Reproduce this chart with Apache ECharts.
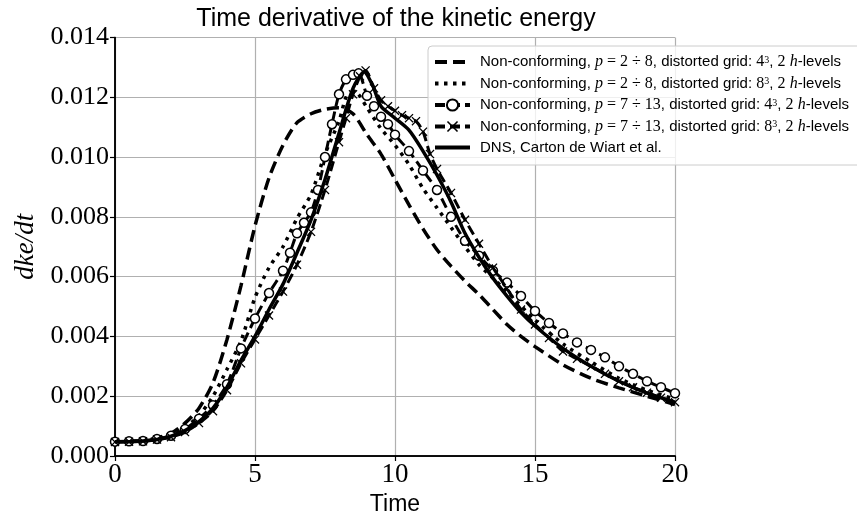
<!DOCTYPE html>
<html><head><meta charset="utf-8">
<script src="https://cdn.jsdelivr.net/npm/echarts@6/dist/echarts.min.js"></script>
<style>html,body{margin:0;padding:0;background:#fff}#c{width:857px;height:523px}</style>
</head><body><div id="c"></div>
<script>
// ---- data ----
const xTicks = [0, 5, 10, 15, 20];
const yTicks = [0, 0.002, 0.004, 0.006, 0.008, 0.010, 0.012, 0.014];

const seriesNames = [
  'Non-conforming, p = 2 ÷ 8, distorted grid: 4^3, 2 h-levels',
  'Non-conforming, p = 2 ÷ 8, distorted grid: 8^3, 2 h-levels',
  'Non-conforming, p = 7 ÷ 13, distorted grid: 4^3, 2 h-levels',
  'Non-conforming, p = 7 ÷ 13, distorted grid: 8^3, 2 h-levels',
  'DNS, Carton de Wiart et al.'
];

// p = 2÷8, 4^3 (dashed)
const t1 = [0,0.5,1,1.5,2,2.5,3,3.5,4,4.5,5,5.5,6,6.5,7,7.5,8,8.5,9,9.5,10,10.5,11,11.5,12,12.5,13,13.5,14,14.5,15,16,17,18,19,20];
const v1 = [0.00048,0.00049,0.00052,0.0006,0.00076,0.0011,0.0016,0.00245,0.0039,0.0057,0.0077,0.0093,0.0104,0.01115,0.01145,0.0116,0.01165,0.01145,0.01075,0.0101,0.00925,0.0084,0.0076,0.0069,0.00635,0.00585,0.0054,0.0049,0.0044,0.004,0.00366,0.00305,0.0026,0.00228,0.002,0.00172];

// p = 2÷8, 8^3 (dotted)
const t2 = [0,0.5,1,1.5,2,2.5,3,3.5,4,4.5,5,5.5,6,6.5,7,7.5,8,8.3,8.6,9,9.5,10,10.5,11,11.5,12,12.5,13,13.5,14,15,16,17,18,19,20];
const v2 = [0.00048,0.00049,0.0005,0.00057,0.0007,0.00095,0.00135,0.002,0.0029,0.00385,0.0053,0.0063,0.0070,0.00795,0.00875,0.0101,0.0112,0.0121,0.01215,0.01165,0.01095,0.0104,0.00975,0.00895,0.0083,0.00765,0.007,0.0064,0.00595,0.0055,0.00455,0.00375,0.00315,0.0026,0.0022,0.0019];

// p = 7÷13, 4^3 (dashed + circles)
const t3 = [0,0.5,1,1.5,2,2.5,3,3.5,4,4.5,5,5.5,6,6.25,6.5,6.75,7,7.25,7.5,7.75,8,8.25,8.5,8.7,9,9.25,9.5,9.75,10,10.5,11,11.5,12,12.5,13,13.5,14,14.5,15,15.5,16,16.5,17,17.5,18,18.5,19,19.5,20];
const v3 = [0.00048,0.00049,0.0005,0.00057,0.00068,0.0009,0.00125,0.0017,0.0024,0.0036,0.0046,0.00545,0.0062,0.0068,0.00745,0.0078,0.00815,0.0089,0.01,0.0111,0.0121,0.0126,0.01275,0.0128,0.01205,0.0117,0.01135,0.0111,0.01075,0.0102,0.00955,0.0089,0.008,0.0072,0.0067,0.0062,0.0058,0.00535,0.00485,0.00445,0.0041,0.0038,0.00355,0.0033,0.003,0.00275,0.0025,0.0023,0.0021];

// p = 7÷13, 8^3 (dashed + crosses)
const t4 = [0,0.5,1,1.5,2,2.5,3,3.5,4,4.5,5,5.5,6,6.5,7,7.5,8,8.25,8.5,8.75,8.95,9.25,9.5,9.75,10,10.25,10.5,10.75,11,11.25,11.5,12,12.5,13,13.5,14,14.5,15,15.5,16,16.5,17,17.5,18,18.5,19,19.5,20];
const v4 = [0.00047,0.00048,0.00049,0.00055,0.00063,0.0008,0.0011,0.0015,0.0022,0.0031,0.0039,0.0047,0.0055,0.0064,0.0075,0.0089,0.0105,0.0113,0.0121,0.0127,0.0129,0.0123,0.0119,0.0117,0.01155,0.0114,0.0113,0.0112,0.01085,0.0101,0.0096,0.0088,0.0079,0.0071,0.0063,0.0056,0.0049,0.0044,0.00395,0.0035,0.00325,0.003,0.00275,0.0025,0.0023,0.00212,0.00195,0.0018];

// DNS (solid)
const t5 = [0,0.5,1,1.5,2,2.5,3,3.5,4,4.5,5,5.5,6,6.5,7,7.5,8,8.5,8.9,9.2,9.5,10,10.5,11,11.5,12,12.5,13,13.5,14,14.5,15,16,17,18,19,20];
const v5 = [0.00048,0.00048,0.0005,0.00055,0.00066,0.00085,0.00115,0.0016,0.0023,0.0032,0.004,0.0049,0.00575,0.0068,0.0079,0.00925,0.0108,0.0123,0.01285,0.0124,0.0117,0.0113,0.0109,0.0102,0.0094,0.0085,0.00745,0.00665,0.00595,0.00535,0.0048,0.00435,0.0036,0.003,0.0025,0.0021,0.0018];

// ---- chart ----
const zip = (t, v) => t.map((x, i) => [x, v[i]]);
const SERIF = 'Liberation Serif';
const SANS = 'Liberation Sans';

const richLabel = {
  'Non-conforming, p = 2 ÷ 8, distorted grid: 4^3, 2 h-levels':
    'Non-conforming, {i|p}{m| = 2 ÷ 8}, distorted grid: {m|4}{s|3}, {m|2} {i|h}-levels',
  'Non-conforming, p = 2 ÷ 8, distorted grid: 8^3, 2 h-levels':
    'Non-conforming, {i|p}{m| = 2 ÷ 8}, distorted grid: {m|8}{s|3}, {m|2} {i|h}-levels',
  'Non-conforming, p = 7 ÷ 13, distorted grid: 4^3, 2 h-levels':
    'Non-conforming, {i|p}{m| = 7 ÷ 13}, distorted grid: {m|4}{s|3}, {m|2} {i|h}-levels',
  'Non-conforming, p = 7 ÷ 13, distorted grid: 8^3, 2 h-levels':
    'Non-conforming, {i|p}{m| = 7 ÷ 13}, distorted grid: {m|8}{s|3}, {m|2} {i|h}-levels',
  'DNS, Carton de Wiart et al.': 'DNS, Carton de Wiart et al.'
};

const crossPath = 'path://M1,0L5,4L9,0L10,1L6,5L10,9L9,10L5,6L1,10L0,9L4,5L0,1Z';
const hidden = {color: 'rgba(0,0,0,0)', borderWidth: 0, borderColor: 'rgba(0,0,0,0)'};

const axisBox = {show: true, lineStyle: {color: '#000', width: 1.5}};

const chart = echarts.init(document.getElementById('c'), null, {renderer: 'canvas'});
chart.setOption({
  animation: false,
  backgroundColor: '#fff',
  title: {
    text: 'Time derivative of the kinetic energy',
    left: 391, top: 2, textAlign: 'center',
    textStyle: {fontFamily: SANS, fontSize: 25, fontWeight: 'normal', color: '#000'}
  },
  grid: {left: 115, right: 182, top: 37.5, bottom: 67},
  legend: {
    orient: 'vertical', left: 428, top: 46,
    padding: [8, 12, 10, 5],
    itemWidth: 35, itemHeight: 14, itemGap: 5.5,
    backgroundColor: 'rgba(255,255,255,0.8)', borderColor: '#ccc', borderWidth: 1, borderRadius: 4,
    data: [
      {name: seriesNames[0], itemStyle: hidden, lineStyle: {width: 4}},
      {name: seriesNames[1], itemStyle: hidden, lineStyle: {width: 4}},
      {name: seriesNames[2], lineStyle: {width: 4}},
      {name: seriesNames[3], lineStyle: {width: 4}},
      {name: seriesNames[4], itemStyle: hidden, lineStyle: {width: 4}}
    ],
    formatter: n => richLabel[n],
    textStyle: {
      fontFamily: SANS, fontSize: 15, lineHeight: 14, color: '#000', padding: [0, 0, 0, 5],
      rich: {
        m: {fontFamily: SERIF, fontSize: 16, lineHeight: 14, color: '#000'},
        i: {fontFamily: SERIF, fontSize: 16, lineHeight: 14, fontStyle: 'italic', color: '#000'},
        s: {fontFamily: SERIF, fontSize: 10, color: '#000', verticalAlign: 'top', lineHeight: 8}
      }
    }
  },
  xAxis: [{
    type: 'value', min: 0, max: 20, interval: 5,
    name: 'Time', nameLocation: 'middle', nameGap: 36,
    nameTextStyle: {fontFamily: SANS, fontSize: 23, color: '#000'},
    axisLine: axisBox,
    axisTick: {show: true, length: 5, lineStyle: {color: '#000', width: 1.2}},
    axisLabel: {fontFamily: SERIF, fontSize: 27, color: '#000', margin: 5,
      formatter: v => xTicks.includes(v) ? String(v) : ''},
    splitLine: {show: true, lineStyle: {color: '#b0b0b0', width: 1.2}}
  }, {
    type: 'value', min: 0, max: 20, interval: 5, position: 'top',
    axisLine: axisBox, axisTick: {show: false}, axisLabel: {show: false}, splitLine: {show: false}
  }],
  yAxis: [{
    type: 'value', min: 0, max: 0.014, interval: 0.002,
    name: 'dke/dt', nameLocation: 'middle', nameGap: 71, nameRotate: 90,
    nameTextStyle: {fontFamily: SERIF, fontStyle: 'italic', fontSize: 27, color: '#000'},
    axisLine: axisBox,
    axisTick: {show: true, length: 5, lineStyle: {color: '#000', width: 1.2}},
    axisLabel: {fontFamily: SERIF, fontSize: 26, color: '#000', margin: 6,
      formatter: v => yTicks.some(y => Math.abs(y - v) < 1e-9) ? v.toFixed(3) : ''},
    splitLine: {show: true, lineStyle: {color: '#b0b0b0', width: 1.2}}
  }, {
    type: 'value', min: 0, max: 0.014, interval: 0.002, position: 'right',
    axisLine: axisBox, axisTick: {show: false}, axisLabel: {show: false}, splitLine: {show: false}
  }],
  series: [
    {name: seriesNames[0], type: 'line', data: zip(t1, v1), symbol: 'circle', showSymbol: false, smooth: 0.25,
     lineStyle: {color: '#000', width: 3.5, type: [12, 6]}, itemStyle: {color: '#000'}, z: 2},
    {name: seriesNames[1], type: 'line', data: zip(t2, v2), symbol: 'circle', showSymbol: false, smooth: 0.25,
     lineStyle: {color: '#000', width: 3.5, type: [3.5, 5.5], cap: 'butt'}, itemStyle: {color: '#000'}, z: 3},
    {name: seriesNames[2], type: 'line', data: zip(t3, v3), symbol: 'circle', symbolSize: 9, showSymbol: true, smooth: 0.25,
     lineStyle: {color: '#000', width: 3, type: [10, 5]}, itemStyle: {color: '#fff', borderColor: '#000', borderWidth: 1.5}, z: 4},
    {name: seriesNames[3], type: 'line', data: zip(t4, v4), symbol: crossPath, symbolSize: 9, showSymbol: true, smooth: 0.25,
     lineStyle: {color: '#000', width: 3, type: [10, 5]}, itemStyle: {color: '#000'}, z: 5},
    {name: seriesNames[4], type: 'line', data: zip(t5, v5), symbol: 'circle', showSymbol: false, smooth: 0.25,
     lineStyle: {color: '#000', width: 3.5}, itemStyle: {color: '#000'}, z: 6}
  ]
});
</script>
</body></html>
